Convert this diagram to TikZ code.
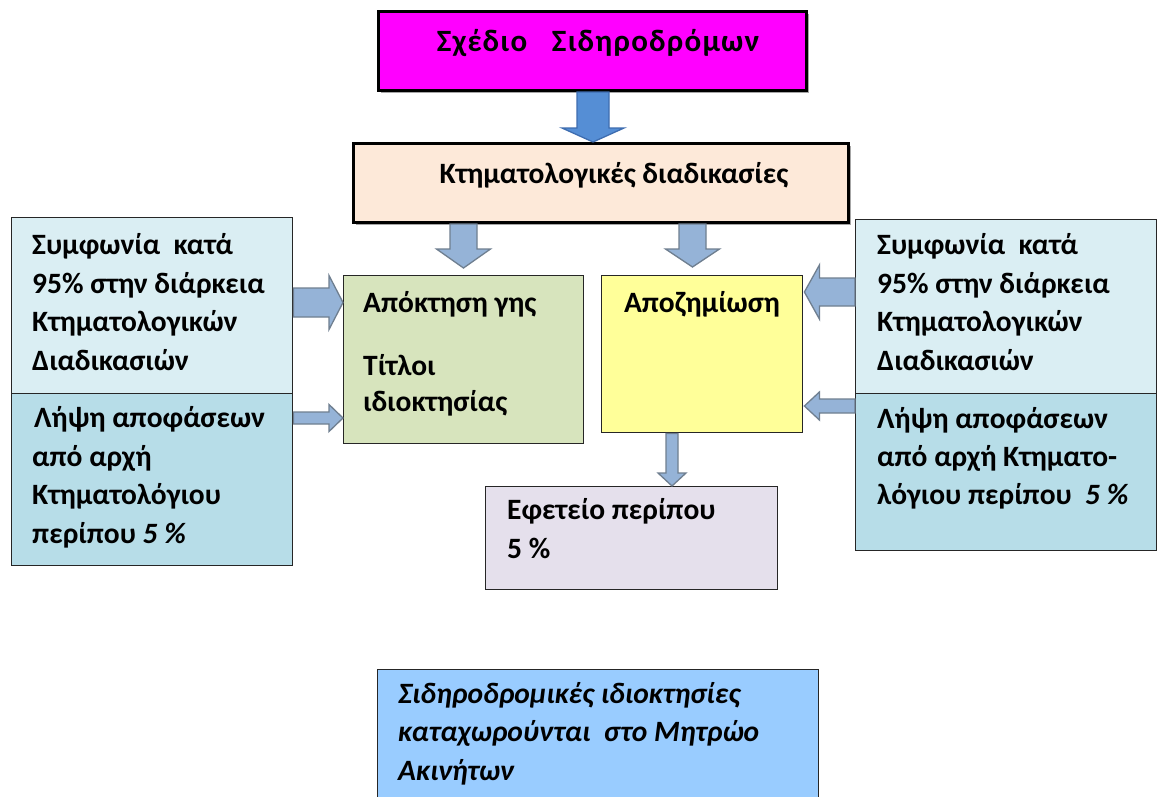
\documentclass[tikz,border=0pt]{standalone}
\usepackage{fontspec}
\setmainfont{Carlito}
\usetikzlibrary{calc,shadows}
\definecolor{cMag}{HTML}{FF00FF}
\definecolor{cKt}{HTML}{FDE9D9}
\definecolor{cLtop}{HTML}{DAEEF3}
\definecolor{cLbot}{HTML}{B7DDE8}
\definecolor{cGreen}{HTML}{D7E4BD}
\definecolor{cYellow}{HTML}{FFFF99}
\definecolor{cLav}{HTML}{E5E0EC}
\definecolor{cReg}{HTML}{99CCFF}
\definecolor{cArrow}{HTML}{95B3D7}
\definecolor{cArrowLine}{HTML}{6F7F90}
\definecolor{cArrowDark}{HTML}{558ED5}
\definecolor{cArrowDarkLine}{HTML}{3E6DB0}
\newcommand{\varrowd}[6]{%
  \draw[#1] let \p1=(#2), \p2=(#3) in
  (\x1-#4pt,\y1) -- (\x1+#4pt,\y1) -- (\x1+#4pt,\y2+#6pt) -- (\x1+#5pt,\y2+#6pt)
  -- (\x1,\y2) -- (\x1-#5pt,\y2+#6pt) -- (\x1-#4pt,\y2+#6pt) -- cycle;}
\newcommand{\harrowr}[6]{%
  \draw[#1] let \p1=(#2), \p2=(#3) in
  (\x1,\y1+#4pt) -- (\x2-#6pt,\y1+#4pt) -- (\x2-#6pt,\y1+#5pt) -- (\x2,\y1)
  -- (\x2-#6pt,\y1-#5pt) -- (\x2-#6pt,\y1-#4pt) -- (\x1,\y1-#4pt) -- cycle;}
\newcommand{\harrowl}[6]{%
  \draw[#1] let \p1=(#2), \p2=(#3) in
  (\x1,\y1+#4pt) -- (\x2+#6pt,\y1+#4pt) -- (\x2+#6pt,\y1+#5pt) -- (\x2,\y1)
  -- (\x2+#6pt,\y1-#5pt) -- (\x2+#6pt,\y1-#4pt) -- (\x1,\y1-#4pt) -- cycle;}
\begin{document}
\begin{tikzpicture}[x=1pt,y=-1pt,
  box/.style={draw=black!85, line width=1.4pt, inner sep=0pt, anchor=north west},
  heavybox/.style={draw=black, line width=3pt, inner sep=0pt, anchor=north west,
    drop shadow={shadow xshift=2pt, shadow yshift=-2pt, fill=black, opacity=0.35}},
  txt/.style={font=\fontsize{29.5}{38.5}\selectfont\bfseries, align=left, inner sep=0pt, anchor=base west},
  itxt/.style={txt, font=\fontsize{29.5}{38.5}\selectfont\bfseries\itshape},
  lightarrow/.style={fill=cArrow, draw=cArrowLine, line width=1.3pt, line join=miter},
  darkarrow/.style={fill=cArrowDark, draw=cArrowDarkLine, line width=1.3pt, line join=miter}]
\useasboundingbox (0,0) rectangle (1160,796);
\fill[white] (0,0) rectangle (1160,796);

% boxes
\node[heavybox, fill=cMag, minimum width=428pt, minimum height=79pt] (plan) at (377,10) {};
\node[heavybox, fill=cKt, minimum width=495pt, minimum height=79pt] (kt) at (352,142) {};
\node[box, fill=cLtop, minimum width=281pt, minimum height=176pt] (lt) at (11,217) {};
\node[box, fill=cLbot, minimum width=281pt, minimum height=172pt] (lb) at (11,393) {};
\node[box, fill=cGreen, minimum width=240pt, minimum height=168pt] (acq) at (343,275) {};
\node[box, fill=cYellow, minimum width=201pt, minimum height=157pt] (comp) at (601,275) {};
\node[box, fill=cLav, minimum width=292pt, minimum height=103pt] (appeal) at (485,486) {};
\node[box, fill=cLtop, minimum width=301pt, minimum height=174pt] (rt) at (855,219) {};
\node[box, fill=cLbot, minimum width=301pt, minimum height=157pt] (rb) at (855,393) {};
\node[box, fill=cReg, minimum width=441pt, minimum height=140pt] (reg) at (377,669) {};

% texts (base anchor = baseline of the last line)
\node[txt, anchor=base, font=\fontsize{31}{38.5}\selectfont\bfseries\addfontfeatures{LetterSpace=4}] (planT) at (598,51) {Σχέδιο\ \ \ Σιδηροδρόμων};
\node[txt, anchor=base] (ktT) at (614,183) {Κτηματολογικές διαδικασίες};
\node[txt] (ltT) at (32,370) {Συμφωνία\ \ κατά\\95\% στην διάρκεια\\Κτηματολογικών\\Διαδικασιών};
\node[txt] (lbT) at (34,543) {Λήψη αποφάσεων\\\hspace*{-2pt}από αρχή\\\hspace*{-2pt}Κτηματολόγιου\\\hspace*{-2pt}περίπου \textit{5 \%}};
\node[txt, font=\fontsize{29.5}{36}\selectfont\bfseries] (acqT) at (363,411) {Απόκτηση γης\\[27pt]Τίτλοι\\ιδιοκτησίας};
\node[txt, anchor=base] (compT) at (702,312) {Αποζημίωση};
\node[txt] (appealT) at (507,558) {Εφετείο περίπου\\5 \%};
\node[txt] (rtT) at (877,370) {Συμφωνία\ \ κατά\\95\% στην διάρκεια\\Κτηματολογικών\\Διαδικασιών};
\node[txt, font=\fontsize{29.5}{38}\selectfont\bfseries] (rbT) at (877,504) {Λήψη αποφάσεων\\από αρχή Κτηματο-\\λόγιου περίπου\ \ \textit{5 \%}};
\node[itxt] (regT) at (398,780) {Σιδηροδρομικές ιδιοκτησίες\\καταχωρούνται\ \ στο Μητρώο\\Ακινήτων};

% arrow end points
\coordinate (a1s) at (593,0 |- plan.south);
\coordinate (a1e) at (593,0 |- kt.north);
\coordinate (a2s) at (463.5,0 |- kt.south);
\coordinate (a2e) at ($(463.5,0 |- acq.north)+(0,-7)$);
\coordinate (a3s) at (692.5,0 |- kt.south);
\coordinate (a3e) at ($(692.5,0 |- comp.north)+(0,-8)$);
\coordinate (a4s) at (672,0 |- comp.south);
\coordinate (a4e) at (672,0 |- appeal.north);
\coordinate (a5s) at (lt.east |- 0,302.5);
\coordinate (a5e) at (acq.west |- 0,302.5);
\coordinate (a6s) at (lb.east |- 0,418);
\coordinate (a6e) at (acq.west |- 0,418);
\coordinate (a7s) at (rt.west |- 0,292);
\coordinate (a7e) at ($(comp.east |- 0,292)+(1,0)$);
\coordinate (a8s) at (rb.west |- 0,406);
\coordinate (a8e) at ($(comp.east |- 0,406)+(1,0)$);

% block arrows
\varrowd{darkarrow}{a1s}{a1e}{16}{31}{14}
\varrowd{lightarrow}{a2s}{a2e}{13.5}{27}{19}
\varrowd{lightarrow}{a3s}{a3e}{13.5}{27}{18}
\varrowd{lightarrow}{a4s}{a4e}{6}{14}{13}
\harrowr{lightarrow}{a5s}{a5e}{14.5}{27}{14}
\harrowr{lightarrow}{a6s}{a6e}{6}{13.5}{14}
\harrowl{lightarrow}{a7s}{a7e}{14}{27}{15}
\harrowl{lightarrow}{a8s}{a8e}{7}{14}{15}
\end{tikzpicture}
\end{document}
